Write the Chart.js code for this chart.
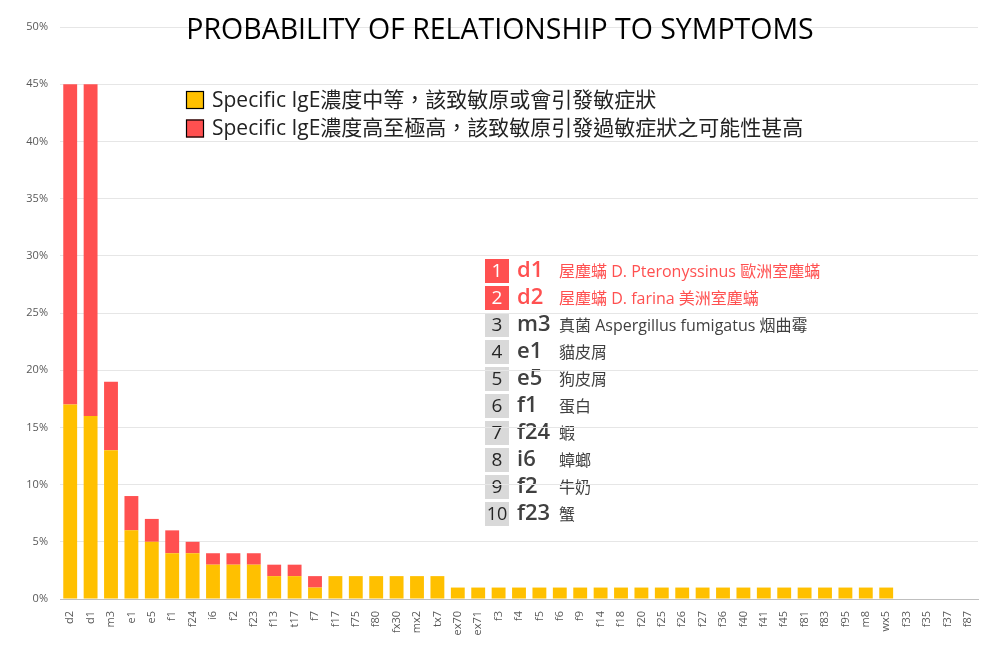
<!DOCTYPE html>
<html>
<head>
<meta charset="utf-8">
<script src="https://cdn.jsdelivr.net/npm/chart.js@4.4.1/dist/chart.umd.min.js"></script>
<style>
  html, body { margin: 0; padding: 0; background: #fff; }
  #wrap { width: 1000px; height: 646px; position: relative; }
</style>
</head>
<body>
<div id="wrap"><canvas id="chart"></canvas></div>
<script>
// ------------------------------------------------------------
// Data
// ------------------------------------------------------------

const categories = ["d2", "d1", "m3", "e1", "e5", "f1", "f24", "i6", "f2", "f23",
    "f13", "t17", "f7", "f17", "f75", "f80", "fx30", "mx2", "tx7", "ex70",
    "ex71", "f3", "f4", "f5", "f6", "f9", "f14", "f18", "f20", "f25",
    "f26", "f27", "f36", "f40", "f41", "f45", "f81", "f83", "f95", "m8",
    "wx5", "f33", "f35", "f37", "f87"];

// % moderate (yellow)
const moderate = [17, 16, 13, 6, 5, 4, 4, 3, 3, 3,
    2, 2, 1, 2, 2, 2, 2, 2, 2, 1,
    1, 1, 1, 1, 1, 1, 1, 1, 1, 1,
    1, 1, 1, 1, 1, 1, 1, 1, 1, 1,
    1, 0, 0, 0, 0];

// % high to very high (red)
const high = [28, 29, 6, 3, 2, 2, 1, 1, 1, 1,
    1, 1, 1, 0, 0, 0, 0, 0, 0, 0,
    0, 0, 0, 0, 0, 0, 0, 0, 0, 0,
    0, 0, 0, 0, 0, 0, 0, 0, 0, 0,
    0, 0, 0, 0, 0];

const yTicks = [0, 5, 10, 15, 20, 25, 30, 35, 40, 45, 50];

const titleText = "PROBABILITY OF RELATIONSHIP TO SYMPTOMS";
const legendLabels = [
    "Specific IgE濃度中等，該致敏原或會引發敏症狀",
    "Specific IgE濃度高至極高，該致敏原引發過敏症狀之可能性甚高"
];

const rankCodes = ["d1", "d2", "m3", "e1", "e5", "f1", "f24", "i6", "f2", "f23"];
const rankNames = [
    "屋塵蟎 D. Pteronyssinus 歐洲室塵蟎",
    "屋塵蟎 D. farina 美洲室塵蟎",
    "真菌 Aspergillus fumigatus 烟曲霉",
    "貓皮屑",
    "狗皮屑",
    "蛋白",
    "蝦",
    "蟑螂",
    "牛奶",
    "蟹"
];

const YELLOW = "#FFC000";
const RED = "#FF5050";
const FONT = "'Open Sans', 'Noto Sans CJK TC', sans-serif";

// ------------------------------------------------------------
// Overlay: title, legend, ranking list (list drawn under gridlines)
// ------------------------------------------------------------

const overlay = {
    id: "overlay",
    beforeDraw(chart) {
        const ctx = chart.ctx;
        ctx.save();

        // ranking list
        for (let i = 0; i < rankCodes.length; i++) {
            const top = 259 + i * 27;
            const isTop = i < 2;
            ctx.fillStyle = isTop ? RED : "#D9D9D9";
            ctx.fillRect(485, top, 24, 24);

            ctx.textBaseline = "middle";
            ctx.textAlign = "center";
            ctx.font = (i === 9 ? "18px " : "19px ") + FONT;
            ctx.fillStyle = isTop ? "#fff" : "#262626";
            ctx.fillText(String(i + 1), 497, top + 12.5);

            ctx.textAlign = "left";
            ctx.font = "600 22px " + FONT;
            ctx.fillStyle = isTop ? RED : "#404040";
            ctx.fillText(rankCodes[i], 517, top + 12);

            ctx.font = "16px " + FONT;
            ctx.fillStyle = isTop ? RED : "#404040";
            ctx.fillText(rankNames[i], 559, top + 13);
        }
        ctx.restore();
    },
    afterDraw(chart) {
        const ctx = chart.ctx;
        ctx.save();

        // title
        ctx.fillStyle = "#000";
        ctx.font = "28.5px " + FONT;
        ctx.textAlign = "center";
        ctx.textBaseline = "middle";
        ctx.fillText(titleText, 500, 31);

        // legend
        const colors = [YELLOW, RED];
        legendLabels.forEach((txt, i) => {
            const cy = 100 + i * 28.5;
            ctx.fillStyle = colors[i];
            ctx.fillRect(186, cy - 9, 18, 18);
            ctx.strokeStyle = "#000";
            ctx.lineWidth = 1.2;
            ctx.strokeRect(186.5, cy - 8.5, 17, 17);

            ctx.fillStyle = "#222";
            ctx.font = "21px " + FONT;
            ctx.textAlign = "left";
            ctx.fillText(txt, 212, cy + 1);
        });
        ctx.restore();
    }
};

// ------------------------------------------------------------
// Chart
// ------------------------------------------------------------

const ctx = document.getElementById("chart").getContext("2d");

new Chart(ctx, {
    type: "bar",
    data: {
        labels: categories,
        datasets: [
            {
                label: legendLabels[0],
                data: moderate,
                backgroundColor: YELLOW,
                barPercentage: 0.68,
                categoryPercentage: 1
            },
            {
                label: legendLabels[1],
                data: high,
                backgroundColor: RED,
                barPercentage: 0.68,
                categoryPercentage: 1
            }
        ]
    },
    options: {
        responsive: true,
        maintainAspectRatio: false,
        animation: false,
        layout: { padding: { top: 27, right: 22, left: 0, bottom: 0 } },
        plugins: {
            legend: { display: false },
            tooltip: { enabled: false }
        },
        scales: {
            x: {
                stacked: true,
                grid: { display: false },
                border: { display: true, color: "#BFBFBF", width: 1 },
                ticks: {
                    color: "#595959",
                    font: { family: FONT, size: 11 },
                    minRotation: 90,
                    maxRotation: 90,
                    autoSkip: false,
                    padding: 4
                },
                afterFit(scale) { scale.height = 47; }
            },
            y: {
                stacked: true,
                min: 0,
                max: 50,
                afterBuildTicks(scale) {
                    scale.ticks = yTicks.map(v => ({ value: v }));
                },
                grid: { color: "#E6E6E6", lineWidth: 1, drawTicks: false },
                border: { display: false },
                ticks: {
                    color: "#595959",
                    font: { family: FONT, size: 11 },
                    padding: 12,
                    callback: v => v + "%"
                },
                afterFit(scale) { scale.width = 60; }
            }
        }
    },
    plugins: [overlay]
});
</script>
</body>
</html>
